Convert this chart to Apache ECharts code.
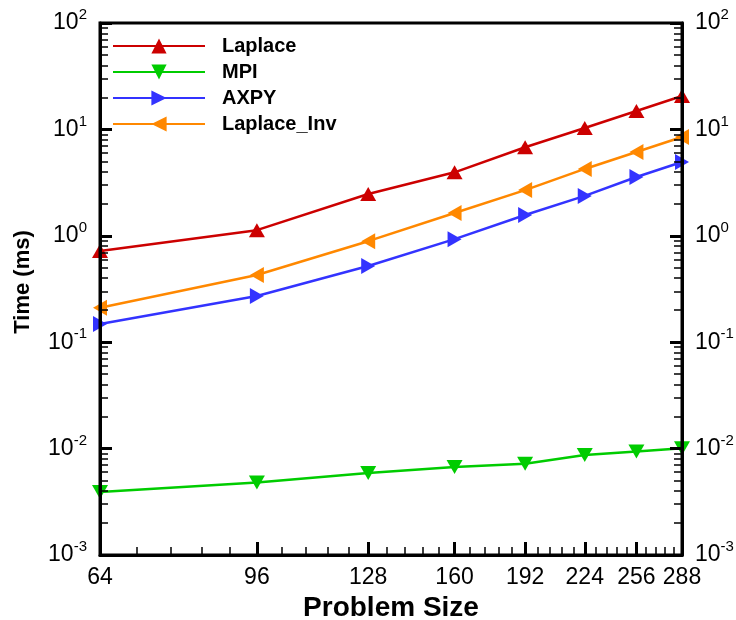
<!DOCTYPE html>
<html><head><meta charset="utf-8">
<script src="https://cdn.jsdelivr.net/npm/echarts@6/dist/echarts.min.js"></script>
<style>html,body{margin:0;padding:0;background:#fff}#c{width:736px;height:620px}</style>
</head><body><div id="c"></div>
<script>
// ---- data ----
const sizes = [64, 96, 128, 160, 192, 224, 256, 288];
const laplace = [0.72, 1.13, 2.47, 3.95, 6.8, 10.3, 14.9, 20.6];
const mpi = [0.0039, 0.0048, 0.0059, 0.0067, 0.0072, 0.0087, 0.0094, 0.0101];
const axpy = [0.148, 0.272, 0.52, 0.93, 1.57, 2.37, 3.57, 4.94];
const laplaceInv = [0.211, 0.428, 0.89, 1.64, 2.69, 4.25, 6.14, 8.48];
const yExponents = [-3, -2, -1, 0, 1, 2];
const seriesNames = ['Laplace', 'MPI', 'AXPY', 'Laplace_Inv'];
const colors = ['#cc0000', '#00cc00', '#3333ff', '#ff8800'];

// ---- scale helpers (log10 transform) ----
const L = Math.log10;
const xMajor = sizes.map(L);
const xMinor = [];
for (let i = 0; i < sizes.length - 1; i++) {
  const a = sizes[i], b = sizes[i + 1];
  for (let k = 1; k <= 4; k++) xMinor.push(L(a + (b - a) * k / 5));
}
const yMinor = [];
for (let e = yExponents[0]; e < yExponents[yExponents.length - 1]; e++) {
  for (let k = 2; k <= 9; k++) yMinor.push(e + L(k));
}
const pts = arr => sizes.map((s, i) => [L(s), L(arr[i])]);

const FONT = '"Liberation Sans", Arial, Helvetica, sans-serif';
const xBase = { type: 'value', min: L(sizes[0]), max: L(sizes[sizes.length - 1]), position: 'bottom', splitLine: { show: false }, z: 10 };
const yBase = { type: 'value', min: yExponents[0], max: yExponents[yExponents.length - 1], interval: 1, splitLine: { show: false }, z: 10 };
const supLabel = {
  fontFamily: FONT, color: '#000', margin: 13,
  formatter: v => '{b|10}{s|' + Math.round(v) + '}',
  rich: {
    b: { fontSize: 23, fontFamily: FONT, color: '#000', lineHeight: 31 },
    s: { fontSize: 15, fontFamily: FONT, color: '#000', verticalAlign: 'top' }
  }
};

const option = {
  animation: false,
  backgroundColor: '#fff',
  grid: { left: 100, right: 54, top: 23, bottom: 65, outerBoundsMode: 'none', containLabel: false, show: true, borderColor: '#000', borderWidth: 3, backgroundColor: 'transparent', z: 10 },
  legend: {
    orient: 'vertical', left: 112, top: 36, padding: 0,
    itemWidth: 92, itemHeight: 19, itemGap: 6, selectedMode: false,
    textStyle: { fontSize: 20, fontWeight: 'bold', color: '#000', fontFamily: FONT, padding: [0, 0, 0, 12] },
    data: seriesNames
  },
  xAxis: [
    Object.assign({}, xBase, {
      name: 'Problem Size', nameLocation: 'middle', nameGap: 38,
      nameTextStyle: { fontSize: 28, fontWeight: 'bold', color: '#000', fontFamily: FONT },
      axisLine: { show: true, onZero: false, lineStyle: { color: '#000', width: 3 } },
      axisTick: { show: true, inside: true, length: 13, lineStyle: { color: '#000', width: 3 }, customValues: xMajor },
      axisLabel: { customValues: xMajor, formatter: v => String(Math.round(Math.pow(10, v))), fontSize: 23, color: '#000', fontFamily: FONT, margin: 11 }
    }),
    Object.assign({}, xBase, {
      axisLine: { show: false, onZero: false },
      axisTick: { show: true, inside: true, length: 8, lineStyle: { color: '#000', width: 1.5 }, customValues: xMinor },
      axisLabel: { show: false }
    })
  ],
  yAxis: [
    Object.assign({}, yBase, {
      position: 'left',
      name: 'Time (ms)', nameLocation: 'middle', nameGap: 66,
      nameTextStyle: { fontSize: 22, fontWeight: 'bold', color: '#000', fontFamily: FONT, padding: [0, 0, 0, 14] },
      axisLine: { show: true, onZero: false, lineStyle: { color: '#000', width: 3 } },
      axisTick: { show: true, inside: true, length: 12, lineStyle: { color: '#000', width: 3 } },
      axisLabel: supLabel
    }),
    Object.assign({}, yBase, {
      position: 'right',
      axisLine: { show: true, onZero: false, lineStyle: { color: '#000', width: 3 } },
      axisTick: { show: true, inside: true, length: 12, lineStyle: { color: '#000', width: 3 } },
      axisLabel: supLabel
    }),
    Object.assign({}, yBase, {
      position: 'left', axisLine: { show: false, onZero: false },
      axisTick: { show: true, inside: true, length: 8, lineStyle: { color: '#000', width: 1.5 }, customValues: yMinor },
      axisLabel: { show: false }
    }),
    Object.assign({}, yBase, {
      position: 'right', axisLine: { show: false, onZero: false },
      axisTick: { show: true, inside: true, length: 8, lineStyle: { color: '#000', width: 1.5 }, customValues: yMinor },
      axisLabel: { show: false }
    })
  ],
  series: [
    { arr: laplace, rot: 0, size: [16, 14] },
    { arr: mpi, rot: 180, size: [16, 14] },
    { arr: axpy, rot: -90, size: [16, 14] },
    { arr: laplaceInv, rot: 90, size: [16, 14] }
  ].map((s, i) => ({
    name: seriesNames[i], type: 'line', xAxisIndex: 0, yAxisIndex: 0,
    data: pts(s.arr), symbol: 'triangle', symbolSize: s.size, symbolRotate: s.rot,
    showSymbol: true, clip: false, z: 2,
    lineStyle: { color: colors[i], width: 2.5 },
    itemStyle: { color: colors[i] }
  }))
};
const chart = echarts.init(document.getElementById('c'), null, { renderer: 'canvas' });
chart.setOption(option);
</script>
</body></html>
